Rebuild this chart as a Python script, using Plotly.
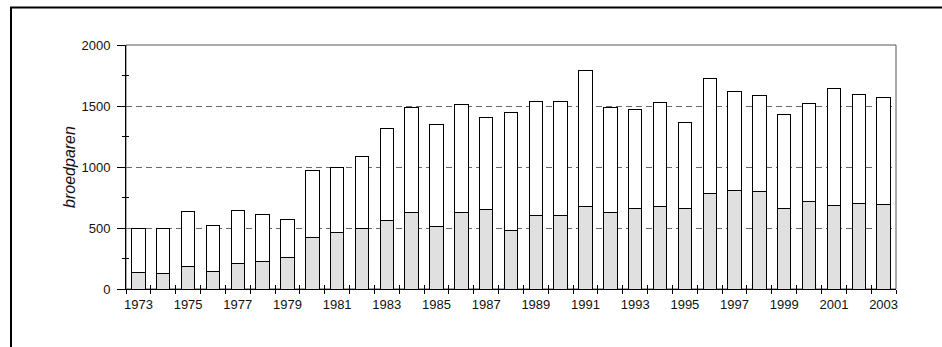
import plotly.graph_objects as go

# broedparen per jaar: onderste deel (grijs) en totaal
years = list(range(1973, 2004))
lower = [136, 131, 183, 147, 210, 224, 256, 420, 464, 497,
         565, 628, 513, 625, 655, 483, 600, 606, 677, 625,
         660, 677, 658, 786, 808, 799, 658, 720, 688, 701, 696]
total = [499, 500, 633, 521, 641, 608, 570, 971, 996, 1089,
         1312, 1490, 1348, 1514, 1402, 1446, 1536, 1539, 1790, 1487,
         1470, 1531, 1362, 1727, 1621, 1585, 1432, 1517, 1645, 1596, 1572]
upper = [t - l for t, l in zip(total, lower)]

label_years = [y for y in years if y % 2 == 1]
bounds = [y - 0.5 for y in years] + [years[-1] + 0.5]
y_major = [0, 500, 1000, 1500, 2000]
y_minor = [250, 750, 1250, 1750]

font = 'Liberation Sans, Arial, sans-serif'

fig = go.Figure()
fig.add_trace(go.Bar(x=years, y=lower, marker=dict(color='#e0e0e0', line=dict(color='black', width=1)),
                     showlegend=False))
fig.add_trace(go.Bar(x=years, y=upper, marker=dict(color='white', line=dict(color='black', width=1)),
                     showlegend=False))
# onzichtbaar spoor voor de tweede assen (ticks aan de binnenkant)
fig.add_trace(go.Scatter(x=[bounds[0]], y=[0], xaxis='x2', yaxis='y2', mode='markers',
                         marker=dict(opacity=0), showlegend=False, hoverinfo='skip'))

W, H = 942, 347
L, R, T, B = 126, 46, 45, 58
pw, ph = W - L - R, H - T - B

def px_x(p): return (p - L) / pw
def px_y(p): return (H - B - p) / ph

fig.update_layout(
    width=W, height=H,
    margin=dict(l=L, r=R, t=T, b=B, pad=0),
    plot_bgcolor='white', paper_bgcolor='white',
    barmode='stack', bargap=0.46,
    font=dict(family=font, size=13, color='#111'),
    xaxis=dict(range=[bounds[0], bounds[-1]], tickmode='array', tickvals=label_years,
               ticktext=[str(y) for y in label_years], ticks='', showgrid=False,
               showline=True, linecolor='black', linewidth=1, zeroline=False,
               ticklabelstandoff=3,
               minor=dict(tickmode='array', tickvals=bounds, ticks='outside', ticklen=4,
                          tickcolor='black', showgrid=False)),
    xaxis2=dict(range=[bounds[0], bounds[-1]], overlaying='x', anchor='y', side='bottom',
                tickmode='array', tickvals=bounds, ticks='inside', ticklen=4, tickcolor='black',
                showticklabels=False, showgrid=False, showline=False, zeroline=False),
    yaxis=dict(range=[0, 2000], tickmode='array', tickvals=y_major, ticks='outside', ticklen=8,
               tickcolor='black', showline=True, linecolor='black', linewidth=1, zeroline=False,
               showgrid=True, gridcolor='#6a6a6a', griddash='6px,4px', gridwidth=1.3,
               ticklabelstandoff=4,
               minor=dict(tickmode='array', tickvals=y_minor, ticks='outside', ticklen=3,
                          tickcolor='black', showgrid=False),
               title=dict(text='<i>broedparen</i>', font=dict(size=16), standoff=1)),
    yaxis2=dict(range=[0, 2000], overlaying='y', anchor='x', side='left',
                tickmode='array', tickvals=y_minor, ticks='inside', ticklen=3, tickcolor='black',
                showticklabels=False, showgrid=False, showline=False, zeroline=False),
    shapes=[
        dict(type='rect', xref='paper', yref='paper', x0=0, x1=1, y0=0, y1=1,
             line=dict(color='#555', width=1), layer='below'),
        dict(type='rect', xref='paper', yref='paper',
             x0=px_x(11), x1=px_x(950), y0=px_y(7.5), y1=px_y(355),
             line=dict(color='black', width=2)),
    ],
)

# geen marge rond de pagina, zodat de figuur linksboven begint
fig.write_html('out.html', config={'displayModeBar': False},
               post_script="document.body.style.margin='0px';")
